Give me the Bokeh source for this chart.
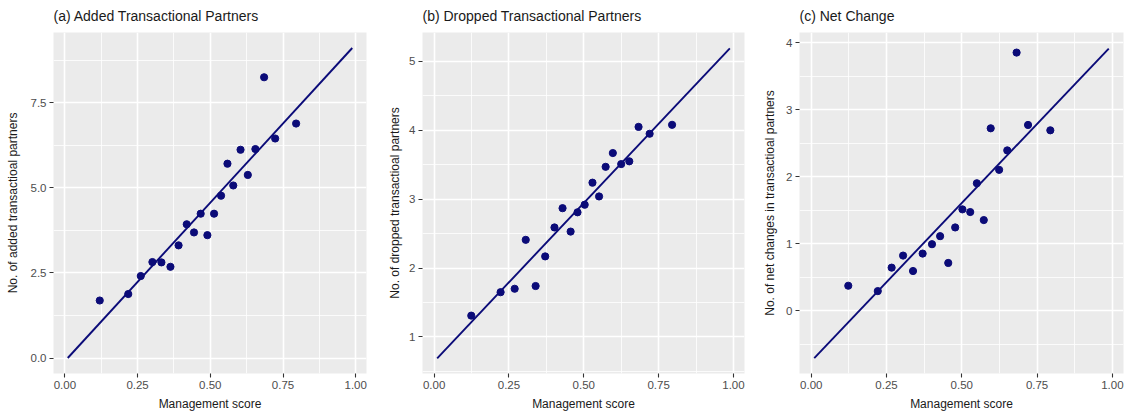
from bokeh.plotting import figure
from bokeh.layouts import row
from bokeh.models import FixedTicker, PrintfTickFormatter, Range1d
from bokeh.embed import file_html
from bokeh.resources import INLINE

# ---- data ----
mgmt_a = [0.120, 0.218, 0.261, 0.301, 0.332, 0.363, 0.391, 0.419, 0.444, 0.467, 0.490,
          0.513, 0.537, 0.559, 0.579, 0.604, 0.629, 0.655, 0.685, 0.723, 0.795]
added = [1.69, 1.88, 2.41, 2.82, 2.81, 2.68, 3.31, 3.93, 3.69, 4.24, 3.61,
         4.24, 4.77, 5.71, 5.07, 6.12, 5.38, 6.14, 8.25, 6.45, 6.89]

mgmt_b = [0.124, 0.222, 0.269, 0.306, 0.339, 0.371, 0.402, 0.429, 0.456, 0.479,
          0.503, 0.529, 0.551, 0.573, 0.597, 0.625, 0.652, 0.683, 0.720, 0.795]
dropped = [1.31, 1.65, 1.70, 2.41, 1.74, 2.17, 2.59, 2.87, 2.53, 2.81,
           2.92, 3.24, 3.04, 3.47, 3.67, 3.51, 3.55, 4.05, 3.95, 4.08]

mgmt_c = [0.123, 0.221, 0.267, 0.305, 0.338, 0.370, 0.401, 0.428, 0.455, 0.478,
          0.502, 0.528, 0.550, 0.573, 0.596, 0.624, 0.651, 0.682, 0.720, 0.794]
net = [0.37, 0.29, 0.64, 0.82, 0.59, 0.85, 0.99, 1.11, 0.71, 1.24,
       1.51, 1.47, 1.90, 1.35, 2.72, 2.10, 2.39, 3.85, 2.77, 2.69]

# fitted lines (end points)
fit_x = [0.010, 0.988]
fit_added = [0.0, 9.11]
fit_dropped = [0.69, 5.19]
fit_net = [-0.71, 3.91]

x_ticks = [0.0, 0.25, 0.5, 0.75, 1.0]
x_minor = [0.125, 0.375, 0.625, 0.875]
yticks_a = [0.0, 2.5, 5.0, 7.5]
yminor_a = [1.25, 3.75, 6.25, 8.75]
yticks_b = [1, 2, 3, 4, 5]
yminor_b = [0.5, 1.5, 2.5, 3.5, 4.5]
yticks_c = [0, 1, 2, 3, 4]
yminor_c = [-0.5, 0.5, 1.5, 2.5, 3.5]

FONT = "Liberation Sans"
NAVY = "#0b0b78"


def panel(title, xs, ys, fy, yt, ym, yfmt, ylabel, yr, bl, br, yls):
    p = figure(width=376, height=416, output_backend="svg", toolbar_location=None,
               x_range=Range1d(-0.039, 1.037), y_range=Range1d(*yr),
               min_border_left=bl, min_border_right=br, min_border_top=32,
               min_border_bottom=43)
    p.title.text = title
    p.title.text_font = FONT
    p.title.text_font_size = "14px"
    p.title.text_font_style = "normal"
    p.title.text_color = "#1a1a1a"
    p.title.vertical_align = "top"
    p.title.standoff = 14
    p.background_fill_color = "#EBEBEB"
    p.border_fill_color = "white"
    p.outline_line_color = None

    for ax, tk, mn, fmt in ((p.xaxis[0], x_ticks, x_minor, "%.2f"), (p.yaxis[0], yt, ym, yfmt)):
        ax.ticker = FixedTicker(ticks=tk, minor_ticks=mn)
        ax.formatter = PrintfTickFormatter(format=fmt)
        ax.axis_line_color = None
        ax.major_tick_line_color = "#333333"
        ax.major_tick_line_width = 1.1
        ax.major_tick_out = 4
        ax.major_tick_in = 0
        ax.minor_tick_line_color = None
        ax.major_label_text_font = FONT
        ax.major_label_text_font_size = "11.5px"
        ax.major_label_text_color = "#4D4D4D"
        ax.major_label_standoff = 3
        ax.axis_label_text_font = FONT
        ax.axis_label_text_font_size = "12px"
        ax.axis_label_text_font_style = "normal"
        ax.axis_label_text_color = "#1a1a1a"

    p.xaxis.axis_label = "Management score"
    p.xaxis.axis_label_standoff = 5
    p.yaxis.axis_label = ylabel
    p.yaxis.axis_label_standoff = yls

    p.xgrid.ticker = FixedTicker(ticks=x_ticks, minor_ticks=x_minor)
    p.ygrid.ticker = FixedTicker(ticks=yt, minor_ticks=ym)
    for g in (p.xgrid[0], p.ygrid[0]):
        g.grid_line_color = "white"
        g.grid_line_width = 1.6
        g.minor_grid_line_color = "white"
        g.minor_grid_line_width = 0.8

    p.line(fit_x, fy, line_color=NAVY, line_width=1.9)
    p.scatter(xs, ys, size=7.2, fill_color=NAVY, line_color=NAVY)
    return p


pa = panel("(a) Added Transactional Partners", mgmt_a, added, fit_added, yticks_a, yminor_a,
           "%.1f", "No. of added transactioal partners", (-0.455, 9.565), 53, 10, 8)
pb = panel("(b) Dropped Transactional Partners", mgmt_b, dropped, fit_dropped, yticks_b, yminor_b,
           "%d", "No. of dropped transactioal partners", (0.47, 5.42), 46, 8, 4)
pc = panel("(c) Net Change", mgmt_c, net, fit_net, yticks_c, yminor_c,
           "%d", "No. of net changes in transactioal partners", (-0.94, 4.15), 47, 5, 6)

layout = row(pa, pb, pc, spacing=0)
open("out.html", "w").write(file_html(layout, INLINE))
